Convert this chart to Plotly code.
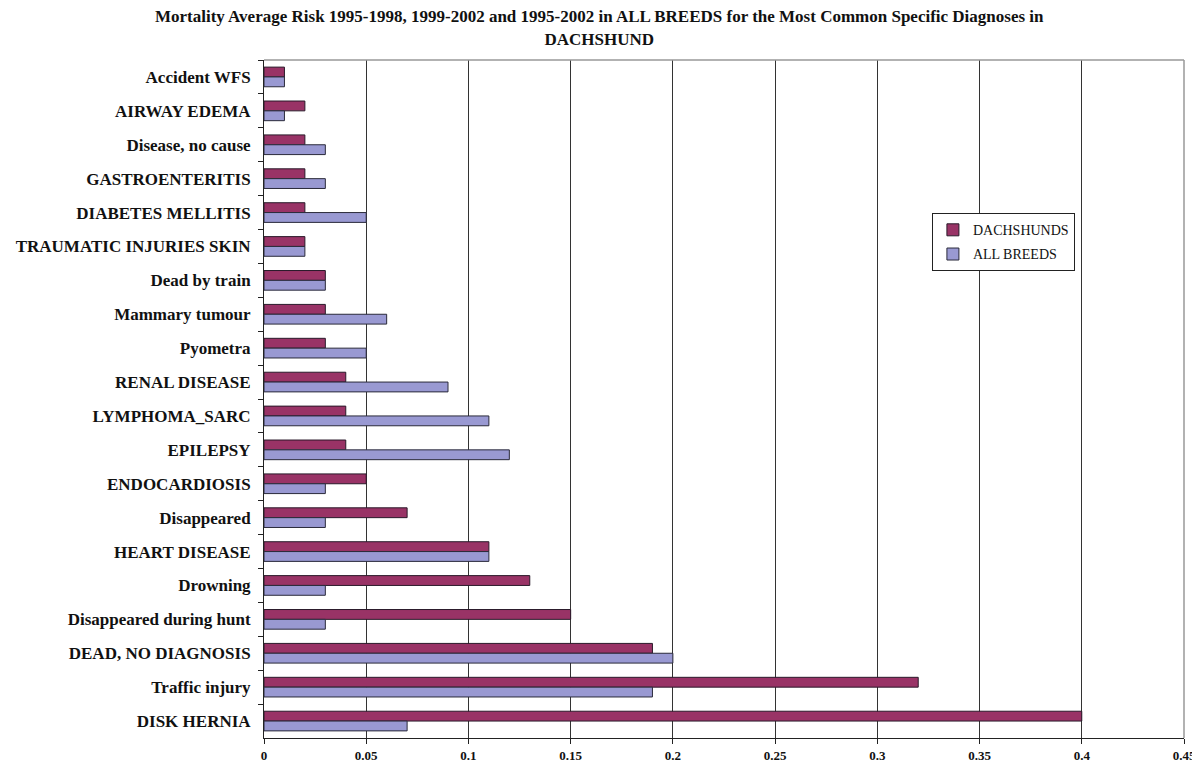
import plotly.graph_objects as go

categories = [
    "Accident WFS", "AIRWAY EDEMA", "Disease, no cause", "GASTROENTERITIS",
    "DIABETES MELLITIS", "TRAUMATIC INJURIES SKIN", "Dead by train",
    "Mammary tumour", "Pyometra", "RENAL DISEASE", "LYMPHOMA_SARC",
    "EPILEPSY", "ENDOCARDIOSIS", "Disappeared", "HEART DISEASE", "Drowning",
    "Disappeared during hunt", "DEAD, NO DIAGNOSIS", "Traffic injury",
    "DISK HERNIA",
]
dachshunds = [0.01, 0.02, 0.02, 0.02, 0.02, 0.02, 0.03, 0.03, 0.03, 0.04,
              0.04, 0.04, 0.05, 0.07, 0.11, 0.13, 0.15, 0.19, 0.32, 0.40]
all_breeds = [0.01, 0.01, 0.03, 0.03, 0.05, 0.02, 0.03, 0.06, 0.05, 0.09,
              0.11, 0.12, 0.03, 0.03, 0.11, 0.03, 0.03, 0.20, 0.19, 0.07]
x_ticks = [0, 0.05, 0.1, 0.15, 0.2, 0.25, 0.3, 0.35, 0.4, 0.45]
x_tick_labels = ["0", "0.05", "0.1", "0.15", "0.2", "0.25", "0.3", "0.35", "0.4", "0.45"]

FONT = "Liberation Serif"

fig = go.Figure()
fig.add_trace(go.Bar(
    y=categories, x=dachshunds, orientation="h", name="DACHSHUNDS",
    legendgroup="d",
    marker=dict(color="#993366", line=dict(color="#2a1a2a", width=1)),
))
fig.add_trace(go.Bar(
    y=categories, x=all_breeds, orientation="h", name="ALL BREEDS",
    legendgroup="a",
    marker=dict(color="#9999d2", line=dict(color="#2a2a3a", width=1)),
))

# page body has an 8px default margin: compensate so the plot lands where the reference has it
fig.update_layout(
    width=1192, height=761,
    margin=dict(l=256, r=16, t=52, b=31, autoexpand=False),
    paper_bgcolor="white", plot_bgcolor="white",
    barmode="group", bargap=0.42, bargroupgap=0,
    title=dict(
        text="<b>Mortality Average Risk 1995-1998, 1999-2002 and 1995-2002 in ALL BREEDS for the Most Common Specific Diagnoses in<br>DACHSHUND</b>",
        x=0.496, xref="container", xanchor="center",
        y=0.981, yref="container", yanchor="top",
        font=dict(family=FONT, size=17, color="#111"),
    ),
    font=dict(family=FONT, color="#111"),
    legend=dict(
        x=0.726, y=0.774, xanchor="left", yanchor="top",
        bordercolor="#222", borderwidth=1, bgcolor="white",
        font=dict(family=FONT, size=14, color="#111"),
        tracegroupgap=3, itemwidth=30,
    ),
    showlegend=True,
)
fig.update_xaxes(
    range=[0, 0.45], tickvals=x_ticks, ticktext=x_tick_labels,
    showgrid=True, gridcolor="#333", gridwidth=1,
    showline=True, linecolor="#222", linewidth=1,
    ticks="outside", ticklen=5, tickcolor="#222",
    tickfont=dict(family=FONT, size=13, color="#111", weight="bold"),
    zeroline=False, automargin=False,
)
fig.update_yaxes(
    autorange="reversed", type="category",
    showgrid=False, showline=True, linecolor="#222", linewidth=1,
    ticks="outside", ticklen=5, tickcolor="#222", tickson="boundaries",
    tickfont=dict(family=FONT, size=17, color="#111", weight="bold"),
    ticklabelstandoff=9, automargin=False,
)
fig.add_shape(type="line", xref="paper", yref="paper", x0=0, x1=1, y0=1, y1=1,
              line=dict(color="#999", width=1.5))
fig.add_shape(type="line", xref="paper", yref="paper", x0=1, x1=1, y0=0, y1=1,
              line=dict(color="#999", width=1.5))

fig.write_html("out.html")
